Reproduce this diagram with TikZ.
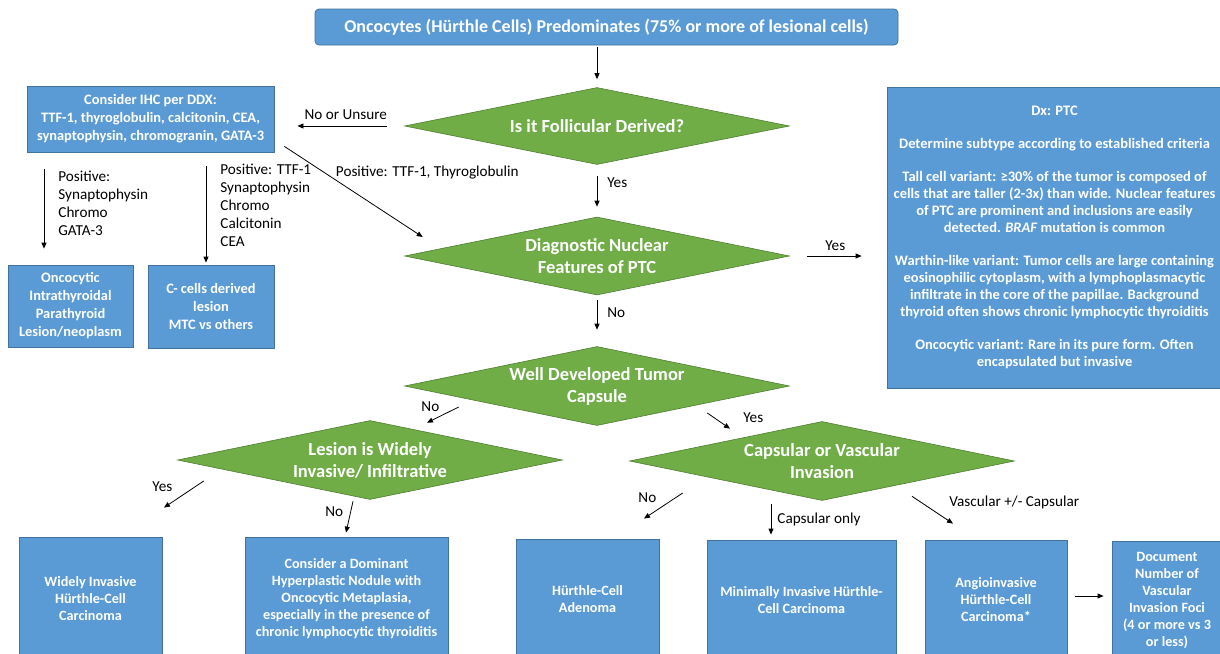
\documentclass[tikz,border=0pt]{standalone}
\usepackage{fontspec}
\setmainfont{Carlito}
\usetikzlibrary{shapes.geometric, arrows.meta, positioning}

\definecolor{boxblue}{HTML}{5B9BD5}
\definecolor{boxedge}{HTML}{41719C}
\definecolor{decgreen}{HTML}{70AD47}
\definecolor{decedge}{HTML}{507E32}

\begin{document}
\begin{tikzpicture}[x=1pt, y=-1pt,
        box/.style={rectangle, draw=boxedge, fill=boxblue, line width=0.8pt, text=white, align=center, inner sep=2pt, font=\bfseries\fontsize{14.4}{18}\selectfont},
        endbox/.style={box, font=\bfseries\fontsize{14.2}{17}\selectfont},
        decision/.style={diamond, draw=decedge, fill=decgreen, line width=0.6pt, text=white, align=center, aspect=4.9, inner sep=0pt, minimum width=385pt, font=\bfseries\fontsize{18.5}{22}\selectfont},
        lbl/.style={font=\fontsize{15.2}{18}\selectfont, inner sep=1pt},
        slbl/.style={lbl},
        arr/.style={-{Triangle[length=6pt, width=5pt]}, line width=0.8pt},
    ]
        \useasboundingbox (0,0) rectangle (1220,653);
        \clip (0,0) rectangle (1220,653);

        % Top
        \node[box, rounded corners=4pt, minimum width=583pt, minimum height=36pt, font=\bfseries\fontsize{18}{21}\selectfont] (onco) at (606.5,27) {Oncocytes (Hürthle Cells) Predominates (75\% or more of lesional cells)};

        % Decisions
        \node[decision, minimum height=77pt] (foll) at (597,126) {Is it Follicular Derived?};
        \node[decision, minimum height=78pt] (nucl) at (597,256) {Diagnostic Nuclear\\Features of PTC};
        \node[decision, minimum height=79pt] (caps) at (597,386) {Well Developed Tumor\\Capsule};
        \node[decision, minimum height=79pt] (wide) at (370,460) {Lesion is Widely\\Invasive/ Infiltrative};
        \node[decision, minimum height=79pt] (inva) at (822,461) {Capsular or Vascular\\Invasion};

        % IHC branch
        \node[box, minimum width=247pt, minimum height=66pt] (ihc) at (150.5,119) {Consider IHC per DDX:\\TTF-1, thyroglobulin, calcitonin, CEA,\\synaptophysin, chromogranin, GATA-3};
        \node[box, minimum width=125pt, minimum height=82pt] (para) at (70.5,306) {Oncocytic\\Intrathyroidal\\Parathyroid\\Lesion/neoplasm};
        \node[box, minimum width=126pt, minimum height=83pt] (ccell) at (211,306.5) {C- cells derived\\lesion\\MTC vs others};

        % PTC
        \node[box, minimum width=335pt, minimum height=301pt, font=\bfseries\fontsize{14.5}{17}\selectfont] (ptc) at (1054.5,237.5) {Dx: PTC\\[16pt]
            Determine subtype according to established criteria\\[16pt]
            Tall cell variant: ≥30\% of the tumor is composed of\\cells that are taller (2-3x) than wide. Nuclear features\\of PTC are prominent and inclusions are easily\\detected. \textit{BRAF} mutation is common\\[16pt]
            Warthin-like variant: Tumor cells are large containing\\eosinophilic cytoplasm, with a  lymphoplasmacytic\\infiltrate in the core of the papillae. Background\\thyroid often shows chronic lymphocytic thyroiditis\\[16pt]
            Oncocytic variant: Rare in its pure form. Often\\encapsulated but invasive};

        % Bottom row
        \node[endbox, minimum width=143pt, minimum height=123pt] (wihcc) at (90.5,598.5) {Widely Invasive\\Hürthle-Cell\\Carcinoma};
        \node[endbox, minimum width=203pt, minimum height=123pt] (hyper) at (346.5,598.5) {Consider a Dominant\\Hyperplastic Nodule with\\Oncocytic Metaplasia,\\especially in the presence of\\chronic lymphocytic thyroiditis};
        \node[endbox, minimum width=143pt, minimum height=121pt] (aden) at (587.5,599.5) {Hürthle-Cell\\Adenoma};
        \node[endbox, minimum width=189pt, minimum height=120pt] (mihcc) at (801.5,600) {Minimally Invasive Hürthle-\\Cell Carcinoma};
        \node[endbox, minimum width=142pt, minimum height=120pt] (angio) at (996,600) {Angioinvasive\\Hürthle-Cell\\Carcinoma*};
        \node[endbox, minimum width=110pt, minimum height=119pt] (foci) at (1167,600.5) {Document\\Number of\\Vascular\\Invasion  Foci\\(4 or more vs 3\\or less)};

        % Arrows
        \draw[arr, shorten <=2pt, shorten >=8pt] (onco.south -| foll.north) -- (foll.north);
        \draw[arr, shorten <=17pt, shorten >=23pt] (foll.west) -- (foll.west -| ihc.east)
            node[lbl, pos=0.45, above=5pt] (lunsure) {No or Unsure};
        \draw[arr] ([shift={(10,-6)}]ihc.south east) -- ([shift={(18.5,-19)}]nucl.west)
            node[lbl, pos=0.37, anchor=south west, inner sep=0pt] (lpos) {Positive: TTF-1, Thyroglobulin};
        \draw[arr, shorten <=17pt, shorten >=16pt] ([xshift=-106.5pt]ihc.south) -- ([xshift=-26.5pt]para.north)
            node[lbl, at start, anchor=north west, xshift=13pt, yshift=-17pt, align=left] (lpara) {Positive:\\Synaptophysin\\Chromo\\GATA-3};
        \draw[arr, shorten <=14pt, shorten >=2pt] ([xshift=55.5pt]ihc.south) -- ([xshift=-5pt]ccell.north)
            node[lbl, at start, anchor=north west, xshift=13pt, yshift=-10pt, align=left] (lccell) {Positive: TTF-1\\Synaptophysin\\Chromo\\Calcitonin\\CEA};
        \draw[arr, shorten <=11.5pt, shorten >=10pt] (foll.south) -- (nucl.north)
            node[lbl, pos=0.35, right=9pt] (lyes1) {Yes};
        \draw[arr, shorten <=17.5pt, shorten >=25pt] (nucl.east) -- (nucl.east -| ptc.west)
            node[lbl, pos=0.47, above=4pt] (lyes2) {Yes};
        \draw[arr, shorten <=5pt, shorten >=16.5pt] (nucl.south) -- (caps.north)
            node[lbl, pos=0.35, right=9pt] (lno1) {No};
        \draw[arr] ([shift={(54.5,21)}]caps.west) -- ([shift={(57,2.5)}]wide.north)
            node[slbl, at start, anchor=east, xshift=-18pt] (lno2) {No};
        \draw[arr] ([shift={(-82.5,27)}]caps.east) -- ([shift={(-92,7.5)}]inva.north)
            node[slbl, at end, anchor=west, xshift=12pt, yshift=11pt] (lyes3) {Yes};
        \draw[arr] ([shift={(26.5,21)}]wide.west) -- ([shift={(73.5,-29)}]wihcc.north)
            node[slbl, at start, anchor=east, xshift=-30pt, yshift=-6pt] (lyes4) {Yes};
        \draw[arr] ([shift={(-17,1.5)}]wide.south) -- ([shift={(-0.5,-4)}]hyper.north)
            node[slbl, pos=0.34, left=6pt] (lno3) {No};
        \draw[arr] ([shift={(53.5,32)}]inva.west) -- ([shift={(56.5,-20)}]aden.north)
            node[slbl, at start, anchor=east, xshift=-25pt, yshift=-5pt] (lno4) {No};
        \draw[arr] ([shift={(-51,3.5)}]inva.south) -- ([shift={(-30.5,-5)}]mihcc.north)
            node[slbl, midway, right=5pt] (lcaps) {Capsular only};
        \draw[arr] ([shift={(90,-4.5)}]inva.south) -- ([shift={(-43,-16)}]angio.north)
            node[slbl, at start, anchor=west, xshift=36pt, yshift=-6pt] (lvasc) {Vascular +/- Capsular};
        \draw[arr, shorten <=8pt, shorten >=8pt] ([yshift=4pt]angio.east) -- ([yshift=4pt]angio.east -| foci.west);
    \end{tikzpicture}
\end{document}
